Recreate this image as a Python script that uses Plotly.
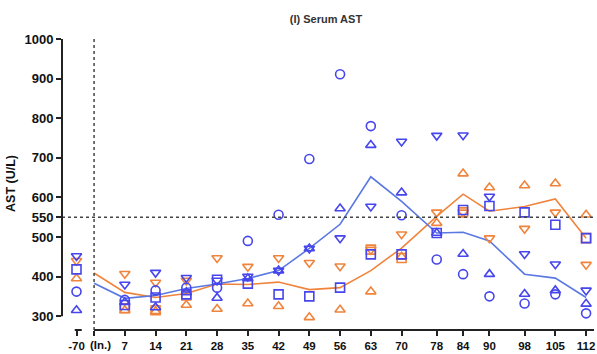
import plotly.graph_objects as go

# ---- data ----
days = [-70, 7, 14, 21, 28, 35, 42, 49, 56, 63, 70, 78, 84, 90, 98, 105, 112]
tick_labels = ["-70", "", "7", "14", "21", "28", "35", "42", "49", "56", "63",
               "70", "78", "84", "90", "98", "105", "112"]
tick_days = [-70, 0, 7, 14, 21, 28, 35, 42, 49, 56, 63, 70, 78, 84, 90, 98, 105, 112]
inoc_label = "(In.)"

blue_circle = [362, 341, 365, 372, 372, 490, 556, 697, 911, 780, 555, 443, 406, 350, 332, 355, 307]
blue_tri_up = [315, 335, 322, 360, 346, 395, 415, 471, 572, 732, 612, 510, 457, 406, 356, 365, 331]
blue_tri_down = [452, 380, 410, 397, 390, 400, 415, 471, 497, 577, 741, 756, 757, 602, 457, 431, 365]
blue_square = [418, 328, 347, 355, 392, 382, 355, 350, 372, 456, 456, 510, 568, 578, 562, 531, 497]

orange_tri_up = [395, 315, 312, 328, 318, 332, 325, 297, 316, 362, 450, 535, 660, 625, 630, 635, 556]
orange_tri_down = [440, 407, 385, 390, 447, 425, 447, 435, 426, 468, 507, 562, 562, 497, 521, 562, 430]
orange_square = [None, 320, 315, 352, None, None, None, None, None, 468, 447, None, 562, None, None, None, 497]

line_days = [0, 7, 14, 21, 28, 35, 42, 49, 56, 63, 70, 78, 84, 90, 98, 105, 112]
blue_mean = [383, 345, 352, 370, 381, 395, 415, 471, 532, 652, 590, 510, 512, 490, 406, 396, 347]
orange_mean = [409, 360, 347, 357, 381, 380, 386, 367, 372, 415, 472, 552, 608, 565, 577, 596, 497]

BREAK_POS = -4  # plotting position of the pre-inoculation day (-70) on the broken axis


def pos(d):
    return BREAK_POS if d < 0 else d


BLUE = "#4646ec"
BLUE_LINE = "#5a78e2"
ORANGE = "#f0843c"

fig = go.Figure()

fig.add_trace(go.Scatter(x=line_days, y=orange_mean, mode="lines",
                         line=dict(color=ORANGE, width=1.6), hoverinfo="skip"))
fig.add_trace(go.Scatter(x=line_days, y=blue_mean, mode="lines",
                         line=dict(color=BLUE_LINE, width=1.6), hoverinfo="skip"))

xp = [pos(d) for d in days]
series = [
    (orange_tri_up, "triangle-up-open", ORANGE),
    (orange_tri_down, "triangle-down-open", ORANGE),
    (orange_square, "square-open", ORANGE),
    (blue_circle, "circle-open", BLUE),
    (blue_tri_up, "triangle-up-open", BLUE),
    (blue_tri_down, "triangle-down-open", BLUE),
    (blue_square, "square-open", BLUE),
]
for vals, sym, col in series:
    fig.add_trace(go.Scatter(x=xp, y=vals, mode="markers", cliponaxis=False,
                             marker=dict(symbol=sym, size=9, color=col,
                                         line=dict(color=col, width=1.6))))

# reference lines
fig.add_shape(type="line", xref="x", yref="paper", x0=0, x1=0, y0=0, y1=1,
              line=dict(color="#444", width=1.5, dash="dot"))
fig.add_shape(type="line", xref="paper", yref="y", x0=0, x1=1, y0=550, y1=550,
              line=dict(color="#444", width=1.5, dash="dot"))

# axis lines (offset / broken style)
fig.add_shape(type="line", xref="paper", yref="y", x0=0, x1=0, y0=300, y1=1000,
              line=dict(color="#222", width=2))
fig.add_shape(type="line", xref="x", yref="paper", x0=0, x1=113.8, y0=0, y1=0,
              line=dict(color="#222", width=2))
fig.add_shape(type="line", xref="x", yref="paper", x0=-4.4, x1=-2.8, y0=0, y1=0,
              line=dict(color="#222", width=2))

font_b = "Liberation Sans"

# inoculation-day label, nudged right of its tick as in the reference
fig.add_annotation(x=0, xref="x", y=0, yref="paper", yanchor="top", xanchor="center",
                   xshift=6, yshift=-7, showarrow=False,
                   text="<b>%s</b>" % inoc_label,
                   font=dict(family=font_b, size=11.5, color="#111"))

fig.update_layout(
    width=597, height=354,
    margin=dict(l=62, r=2, t=37, b=21),
    paper_bgcolor="white", plot_bgcolor="white",
    showlegend=False,
    title=dict(text="<b>(I) Serum AST</b>", x=0.546, xanchor="center", y=0.945, yanchor="middle",
               font=dict(family=font_b, size=11, color="#333")),
    xaxis=dict(range=[-7.3, 113.8], showgrid=False, zeroline=False, showline=False,
               tickmode="array", tickvals=[pos(d) for d in tick_days],
               ticktext=["<b>%s</b>" % t if t else "" for t in tick_labels], tickangle=0,
               ticklabeloverflow="allow",
               ticks="outside", ticklen=5, tickwidth=2, tickcolor="#222",
               tickfont=dict(family=font_b, size=11.5, color="#111")),
    yaxis=dict(range=[265, 1005], showgrid=False, zeroline=False, showline=False,
               tickmode="array", tickvals=[300, 400, 500, 550, 600, 700, 800, 900, 1000],
               ticktext=["<b>%d</b>" % v for v in [300, 400, 500, 550, 600, 700, 800, 900, 1000]],
               ticks="outside", ticklen=5, tickwidth=2, tickcolor="#222",
               tickfont=dict(family=font_b, size=13, color="#111"),
               title=dict(text="<b>AST (U/L)</b>", standoff=6,
                          font=dict(family=font_b, size=12.5, color="#111"))),
)

fig.write_html("out.html")
